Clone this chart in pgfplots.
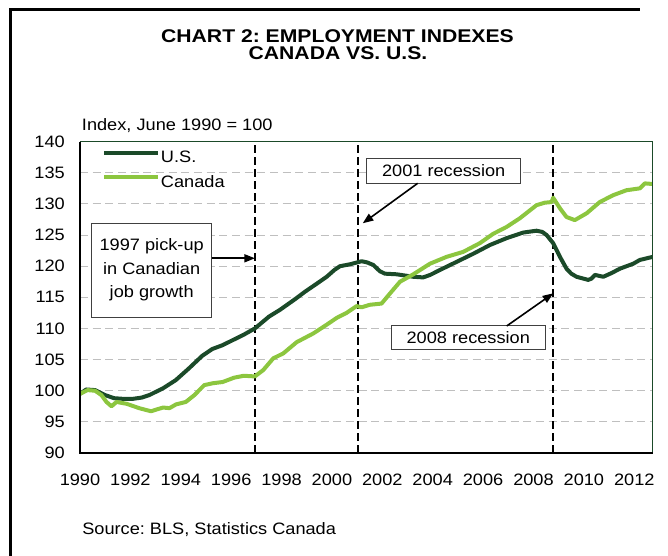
\documentclass[border=0pt]{standalone}
\usepackage{fontspec}
\setmainfont{Liberation Sans}[FakeStretch=1.1]
\newfontfamily\titlefont{Liberation Sans}[FakeStretch=1.15]
\usepackage{pgfplots}
\pgfplotsset{compat=1.18}
\usetikzlibrary{arrows.meta}

\definecolor{usgreen}{HTML}{1B4A29}
\definecolor{cagreen}{HTML}{8CC63F}
\definecolor{gridgray}{HTML}{BFBFBF}
\newcommand\f{\fontsize{12.4}{15}\selectfont}
\frenchspacing

\begin{document}
\begin{tikzpicture}
\begin{axis}[
    at={(0,0)}, anchor=south west,
    scale only axis, width=429.5pt, height=233.5pt,
    xmin=1990, xmax=2012.73, ymin=90, ymax=140,
    xtick={1990,1992,1994,1996,1998,2000,2002,2004,2006,2008,2010,2012},
    ytick={90,95,100,105,110,115,120,125,130,135,140},
    axis x line*=bottom, axis y line*=left,
    axis line style={draw=none},
    major tick length=0pt,
    /pgf/number format/assume math mode=true,
    /pgf/number format/1000 sep={},
    xticklabel style={anchor=center, yshift=-20.25pt, inner sep=0pt, font=\f},
    yticklabel style={anchor=east, xshift=-11.25pt, inner sep=0pt, font=\f},
    ymajorgrids,
    grid style={gridgray, line width=0.75pt, dash pattern=on 6pt off 3.5pt},
    legend style={at={(rel axis cs:0,1)}, anchor=north west, xshift=16.5pt, yshift=-5.75pt,
        draw=none, fill=none, inner sep=0pt, font=\f, row sep=4.8pt, column sep=0pt,
        nodes={inner sep=1pt, text height=9pt, text depth=2.5pt}},
    legend cell align=left,
    legend image code/.code={\draw[#1] (0pt,4.4pt) -- (40pt,4.4pt);},
]
% pick-up and recession markers
\addplot[forget plot, black, line width=1.5pt, dash pattern=on 6pt off 3pt]
    coordinates {(1996.94,90) (1996.94,140)};
\addplot[forget plot, black, line width=1.5pt, dash pattern=on 6pt off 3pt]
    coordinates {(2001.02,90) (2001.02,140)};
\addplot[forget plot, black, line width=1.5pt, dash pattern=on 6pt off 3pt]
    coordinates {(2008.78,90) (2008.78,140)};

\addplot[usgreen, line width=3pt, line join=round] coordinates {
(1990.0,99.5) (1990.25,100.2) (1990.6,100.1) (1991.0,99.3) (1991.35,98.8)
(1991.7,98.7) (1992.1,98.7) (1992.45,98.9) (1992.75,99.3) (1993.0,99.8)
(1993.3,100.4) (1993.8,101.7) (1994.3,103.5) (1994.85,105.6) (1995.25,106.7)
(1995.65,107.3) (1996.1,108.2) (1996.5,109.0) (1996.94,110.0) (1997.5,111.9)
(1997.94,113.0) (1998.5,114.6) (1998.93,115.9) (1999.4,117.2) (1999.79,118.3)
(2000.1,119.4) (2000.32,120.0) (2000.71,120.3) (2001.18,120.8) (2001.4,120.6)
(2001.64,120.2) (2001.9,119.2) (2002.1,118.8) (2002.57,118.7) (2003.23,118.3)
(2003.62,118.2) (2003.9,118.6) (2004.29,119.4) (2004.95,120.7) (2005.61,122.0)
(2006.27,123.4) (2006.93,124.5) (2007.59,125.4) (2008.12,125.7) (2008.35,125.5)
(2008.52,125.0) (2008.78,123.7) (2009.05,121.5) (2009.31,119.6) (2009.5,118.8)
(2009.71,118.3) (2010.17,117.8) (2010.3,118.0) (2010.44,118.6) (2010.77,118.3)
(2011.1,118.9) (2011.43,119.6) (2011.96,120.4) (2012.22,121.0) (2012.73,121.5)
};
\addlegendentry{U.S.}

\addplot[cagreen, line width=3pt, line join=round] coordinates {
(1990.0,99.5) (1990.3,100.1) (1990.6,100.0) (1990.85,99.3) (1991.05,98.2)
(1991.25,97.5) (1991.45,98.2) (1991.85,97.9) (1992.35,97.2) (1992.82,96.7)
(1993.05,97.0) (1993.3,97.3) (1993.55,97.2) (1993.81,97.8) (1994.2,98.2)
(1994.54,99.3) (1994.93,100.9) (1995.27,101.2) (1995.66,101.4) (1996.12,102.1)
(1996.5,102.4) (1996.94,102.3) (1997.27,103.3) (1997.67,105.2) (1998.07,106.0)
(1998.6,107.8) (1999.26,109.2) (1999.79,110.6) (2000.19,111.7) (2000.58,112.5)
(2000.98,113.6) (2001.18,113.4) (2001.5,113.8) (2001.97,114.0) (2002.3,115.6)
(2002.7,117.5) (2003.23,118.7) (2003.89,120.4) (2004.55,121.5) (2005.21,122.3)
(2005.87,123.7) (2006.4,125.2) (2006.93,126.3) (2007.46,127.7) (2008.12,129.8)
(2008.45,130.2) (2008.72,130.3) (2008.78,131.0) (2009.05,129.3) (2009.31,127.9)
(2009.64,127.4) (2010.11,128.5) (2010.63,130.3) (2011.16,131.4) (2011.69,132.2)
(2012.22,132.5) (2012.42,133.3) (2012.73,133.2)
};
\addlegendentry{Canada}
\end{axis}

\begin{scope}[x=0.75pt, y=0.75pt]
% axis frame
\draw[usgreen, line width=1.1pt] (0,311.3) -- (572.7,311.3) -- (572.7,0);
\draw[black, line width=1.5pt] (0,311.3) -- (0,0) -- (572.7,0);
% outer frame: only its left and top sides lie in the picture
\draw[black, line width=2pt] (-69.3,-103) -- (-69.3,443.3) -- (560,443.3);
% titles
\node[font=\titlefont\fontsize{13.8}{15}\selectfont\bfseries] at (257.5,417) {CHART 2: EMPLOYMENT INDEXES};
\node[font=\titlefont\fontsize{13.8}{15}\selectfont\bfseries] at (258,399.5) {CANADA VS. U.S.};
\node[font=\f, anchor=west, inner sep=0pt] at (1.7,327) {Index, June 1990 = 100};
\node[font=\f, anchor=west, inner sep=0pt] at (2,-77) {Source: BLS, Statistics Canada};
% annotation boxes
\draw[black!75, line width=0.75pt, fill=white] (11.7,135.7) rectangle (131.7,229.7);
\node[font=\fontsize{12.4}{17.5}\selectfont, align=center, inner sep=0pt] at (71.7,183)
    {1997 pick-up\\in Canadian\\job growth};
\draw[black, line width=1.2pt, -{Triangle[length=8pt,width=6pt]}] (131.7,194.7) -- (175,194.7);

\draw[black!75, line width=0.75pt, fill=white] (286.7,269.7) rectangle (440.7,294.7);
\node[font=\f, inner sep=0pt] at (363.7,282) {2001 recession};
\draw[black, line width=1.2pt, -{Triangle[length=8pt,width=6pt]}] (337.7,269.7) -- (282.7,229.7);

\draw[black!75, line width=0.75pt, fill=white] (311.7,103) rectangle (465,127);
\node[font=\f, inner sep=0pt] at (388.3,115) {2008 recession};
\draw[black, line width=1.2pt, -{Triangle[length=8pt,width=6pt]}] (426.7,127) -- (473.3,159.7);
\pgfresetboundingbox
\path[use as bounding box] (-80,-103) rectangle (588,453);
\end{scope}
\end{tikzpicture}
\end{document}
